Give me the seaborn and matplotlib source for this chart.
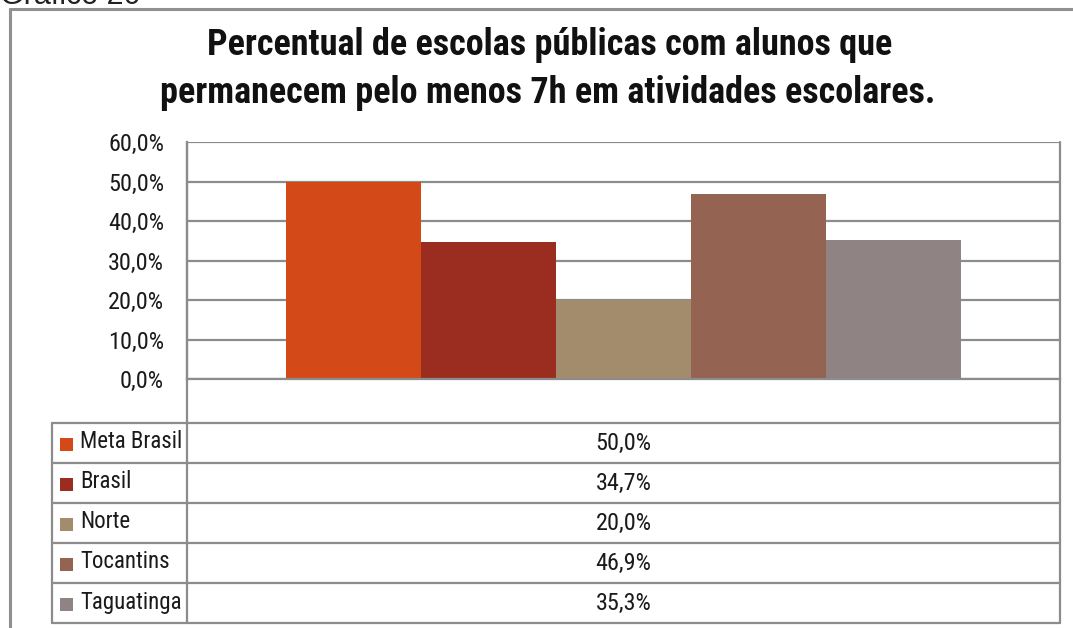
import matplotlib
matplotlib.use("Agg")
import matplotlib.pyplot as plt
import seaborn as sns
import pandas as pd
from matplotlib.lines import Line2D
from matplotlib.patches import Rectangle
from matplotlib import font_manager as fm

# ---- data ----
series = ["Meta Brasil", "Brasil", "Norte", "Tocantins", "Taguatinga"]
values = [50.0, 34.7, 20.0, 46.9, 35.3]
colors = ["#D34A18", "#9B2D20", "#A38C6B", "#946352", "#8F8383"]
yticks = [0, 10, 20, 30, 40, 50, 60]
title1 = "Percentual de escolas públicas com alunos que"
title2 = "permanecem pelo menos 7h em atividades escolares."
caption = "Gráfico 20"

sns.set_theme(style="white")
avail = {f.name for f in fm.fontManager.ttflist}
fam = None
for cand in ["Roboto Condensed", "Liberation Sans Narrow", "Open Sans Condensed", "Liberation Sans"]:
    if cand in avail:
        fam = cand
        break
plt.rcParams["font.family"] = [fam, "DejaVu Sans"] if fam else ["DejaVu Sans"]
cap_fam = ["Liberation Sans", "DejaVu Sans"] if "Liberation Sans" in avail else ["DejaVu Sans"]

W, H = 1073, 628
fig = plt.figure(figsize=(W / 100, H / 100), dpi=100)
fig.patch.set_facecolor("white")

def fx(px):
    return px / W

def fy(py):
    return 1 - py / H

grid_c = "#8C8C8C"
txt_c = "#1a1a1a"
fs = 17.5
fs_leg = 16.5

# ---- main axes ----
L, R, T, B = 187, 1060, 142, 379
ax = fig.add_axes([fx(L), fy(B), fx(R - L), (B - T) / H])
df = pd.DataFrame({"grupo": [""] * len(series), "serie": series, "valor": values})
sns.barplot(data=df, x="grupo", y="valor", hue="serie", hue_order=series,
            palette=colors, width=0.773, saturation=1, legend=False, ax=ax,
            edgecolor="none", linewidth=0)
ax.set_xlim(-0.5, 0.5)
ax.set_ylim(0, 60)
ax.set_yticks(yticks)
ax.set_yticklabels([f"{v:.1f}%".replace(".", ",") for v in yticks], fontsize=fs, color=txt_c)
ax.tick_params(axis="y", length=0, pad=16.5)
ax.set_xticks([])
ax.set_xlabel("")
ax.set_ylabel("")
ax.grid(axis="y", color=grid_c, linewidth=1.6)
ax.set_axisbelow(True)
for s in ["top", "right"]:
    ax.spines[s].set_visible(False)
for s in ["left", "bottom"]:
    ax.spines[s].set_color(grid_c)
    ax.spines[s].set_linewidth(1.6)
ax.set_facecolor("white")

# ---- data table (figure overlay in pixel coords) ----
tab = fig.add_axes([0, 0, 1, 1], facecolor="none")
tab.set_xlim(0, W)
tab.set_ylim(H, 0)
tab.axis("off")

TL, TR = 52, 1060
row_top = 423
row_h = 40
n = len(series)
lw = 1.6
tab.add_line(Line2D([L, L], [T, row_top + n * row_h], color=grid_c, lw=lw))
tab.add_line(Line2D([TR, TR], [T, row_top + n * row_h], color=grid_c, lw=lw))
tab.add_line(Line2D([TL, TL], [row_top, row_top + n * row_h], color=grid_c, lw=lw))
for i in range(n + 1):
    y = row_top + i * row_h
    tab.add_line(Line2D([TL, TR], [y, y], color=grid_c, lw=lw))

for i, (name, val, col) in enumerate(zip(series, values, colors)):
    yc = row_top + i * row_h + row_h / 2
    tab.add_patch(Rectangle((60, yc - 5), 13, 13, facecolor=col, edgecolor="none"))
    tab.text(80, yc - 1, name, fontsize=fs_leg, va="center", ha="left", color=txt_c)
    tab.text((L + TR) / 2, yc, f"{val:.1f}%".replace(".", ","), fontsize=fs,
             va="center", ha="center", color=txt_c)

# ---- outer frame ----
tab.add_line(Line2D([10, 10], [9, H + 5], color="#909090", lw=2.2))
tab.add_line(Line2D([10, W + 5], [9, 9], color="#909090", lw=2.2))

# ---- titles ----
tab.text(550, 45, title1, fontsize=26, fontweight="bold", ha="center", va="center", color="#111111")
tab.text(548, 93, title2, fontsize=26, fontweight="bold", ha="center", va="center", color="#111111")
tab.text(0, 4, caption, fontsize=22, ha="left", va="baseline", color="#222222", family=cap_fam)

fig.savefig("out.png", dpi=100, facecolor="white")
